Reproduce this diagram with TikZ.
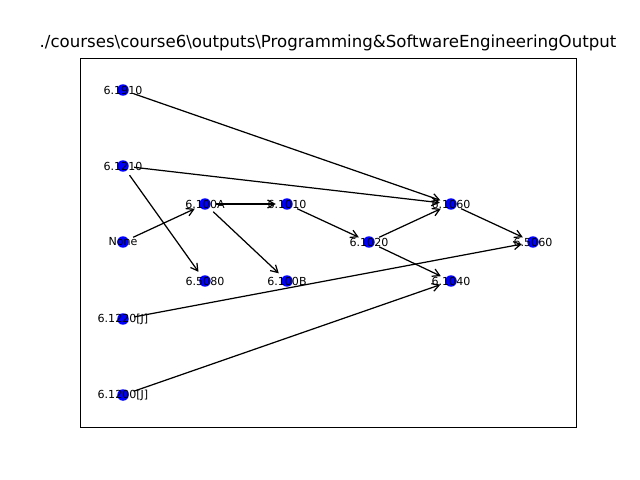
\documentclass[tikz,border=0pt]{standalone}
\usepackage{fontspec,tikz}
\setmainfont{DejaVu Sans}
\usetikzlibrary{arrows.meta}
\definecolor{nodeblue}{HTML}{0000FF}

\begin{document}
\begin{tikzpicture}[x=0.02cm,y=-0.02cm,font=\fontsize{6.3}{7.5}\selectfont,every node/.style={text=black},
  course/.style={circle,fill=nodeblue,minimum size=0.23cm,inner sep=0pt,outer sep=0.11cm},
  prereq/.style={-{Straight Barb[length=1.4mm,width=1.6mm]},line width=.7pt}]
\useasboundingbox (0,0) rectangle (640,480);
% Axes frame and title as the plot prints them.
\draw[line width=.5pt] (80,58) rectangle (576,427);
\node[font=\fontsize{9.45}{11}\selectfont] (title) at (328,43) {./courses\textbackslash course6\textbackslash outputs\textbackslash Programming\&SoftwareEngineeringOutput};
% Courses, one column per layer.
\foreach \name/\x/\y/\code in {c1910/123/90/6.1910,c1210/123/166/6.1210,none/123/242/None,c1220/123/319/{6.1220[J]},c1200/123/395/{6.1200[J]},
  c100A/205/204/6.100A,c5080/205/281/6.5080,c1010/287/204/6.1010,c100B/287/281/6.100B,
  c1020/369/242/6.1020,c1060/451/204/6.1060,c1040/451/281/6.1040,c5060/533/242/6.5060}{
  \node[course,label={[inner sep=0pt]center:{\code}}] (\name) at (\x,\y) {};
}
% Prerequisite edges.
\foreach \a/\b in {c1910/c1060,c1210/c1060,c1210/c5080,none/c100A,c100A/c1010,c100A/c100B,c1010/c1020,
  c1020/c1060,c1020/c1040,c1060/c5060,c1220/c5060,c1200/c1040}{\draw[prereq] (\a) -- (\b);}
\end{tikzpicture}
\end{document}
